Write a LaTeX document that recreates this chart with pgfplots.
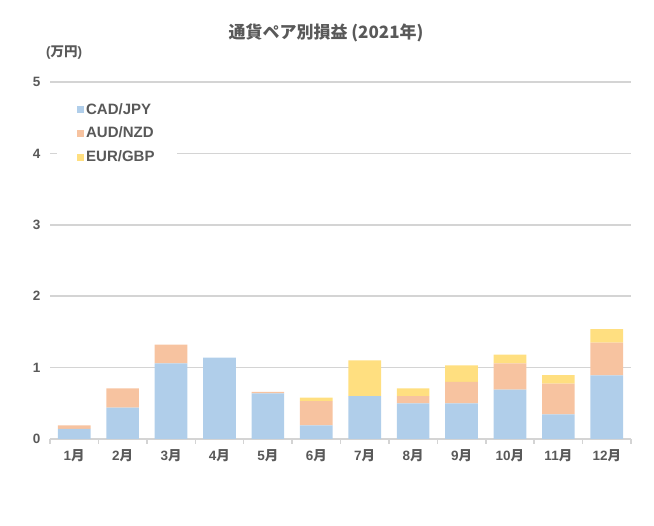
\documentclass[border=0pt]{standalone}
\usepackage{pgfplots}
\pgfplotsset{compat=1.18}
\usepackage{fontspec}
\setmainfont{Liberation Sans}
\newfontfamily\jp{Noto Sans CJK JP}
\definecolor{cblue}{HTML}{B0CEEA}
\definecolor{corange}{HTML}{F7C3A0}
\definecolor{cyellow}{HTML}{FFDF80}
\definecolor{tgray}{HTML}{595959}
\definecolor{ggray}{HTML}{D4D4D4}
\begin{document}
\begin{tikzpicture}[x=1pt,y=1pt]
\path[use as bounding box] (0,0) rectangle (654,526);
\begin{axis}[
  at={(50pt,87pt)}, anchor=south west, scale only axis,
  width=581pt, height=357pt,
  ybar stacked, bar width=32.7pt,
  xmin=-0.5, xmax=11.5, ymin=0, ymax=5,
  ytick={0,1,2,3,4,5},
  xtick={0,...,11},
  xticklabels={1{\jp 月},2{\jp 月},3{\jp 月},4{\jp 月},5{\jp 月},6{\jp 月},7{\jp 月},8{\jp 月},9{\jp 月},10{\jp 月},11{\jp 月},12{\jp 月}},
  minor xtick={-0.5,0.5,...,11.5},
  major tick length=0pt,
  minor tick length=5pt,
  tick align=outside,
  minor tick style={ggray, line width=1.5pt},
  axis x line*=bottom, axis y line*=left,
  x axis line style={ggray, line width=1.5pt, -},
  y axis line style={draw=none},
  ymajorgrids, grid style={ggray, line width=1.5pt},
  /pgf/number format/assume math mode=true,
  ticklabel style={font=\fontsize{13.5}{15}\selectfont\bfseries, text=tgray},
  yticklabel style={xshift=-6pt},
  xticklabel style={yshift=-7pt},
  legend style={draw=none, fill=white, at={(0.012,0.958)}, anchor=north west,
    font=\fontsize{15}{17}\selectfont\bfseries, text=tgray, row sep=7.5pt,
    inner xsep=20pt, inner ysep=4pt, cells={anchor=west}},
  legend image code/.code={\fill[#1] (0pt,-3.5pt) rectangle (7pt,3.5pt);},
]
\addplot[fill=cblue, draw=none] coordinates {(0,0.14) (1,0.44) (2,1.06) (3,1.14) (4,0.64) (5,0.19) (6,0.60) (7,0.50) (8,0.50) (9,0.69) (10,0.345) (11,0.89)};
\addplot[fill=corange, draw=none] coordinates {(0,0.05) (1,0.27) (2,0.26) (3,0) (4,0.02) (5,0.34) (6,0) (7,0.10) (8,0.30) (9,0.37) (10,0.43) (11,0.46)};
\addplot[fill=cyellow, draw=none] coordinates {(0,0) (1,0) (2,0) (3,0) (4,0) (5,0.05) (6,0.50) (7,0.11) (8,0.23) (9,0.12) (10,0.12) (11,0.19)};
\legend{CAD/JPY, AUD/NZD, EUR/GBP}
\end{axis}
\node[text=tgray, font=\fontsize{17}{20}\selectfont\bfseries\jp] at (326,493) {通貨ペア別損益 (2021年)};
\node[text=tgray, font=\fontsize{13.5}{15}\selectfont\bfseries, anchor=west, inner sep=0pt] at (46,473) {({\jp 万円})};
\end{tikzpicture}
\end{document}
